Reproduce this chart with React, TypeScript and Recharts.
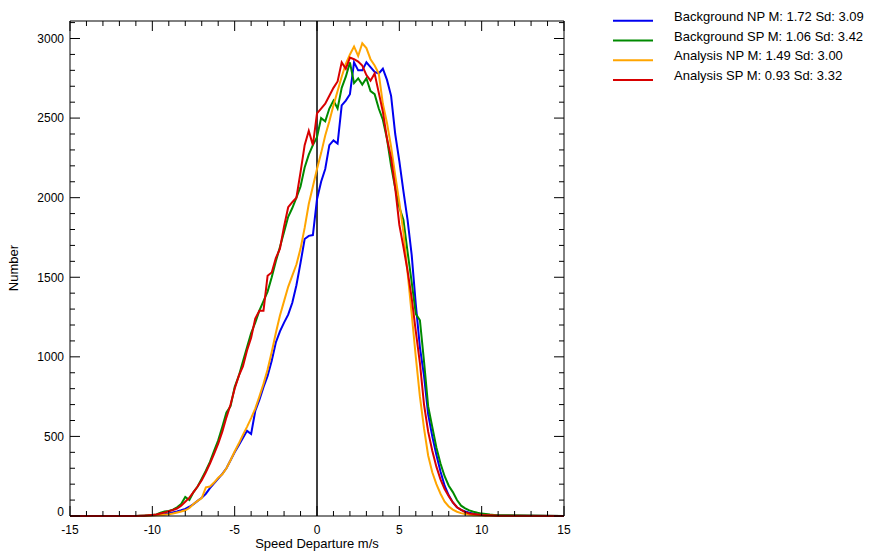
import React from 'react';
import { LineChart, Line, XAxis, YAxis, ReferenceLine } from 'recharts';

// bin centres of the speed departure histogram (m/s)
const SPEED_BINS = [
  -15,
  -11, -10.75, -10.5, -10.25,
  -10, -9.75, -9.5, -9.25,
  -9, -8.75, -8.5, -8.25,
  -8, -7.75, -7.5, -7.25,
  -7, -6.75, -6.5, -6.25,
  -6, -5.75, -5.5, -5.25,
  -5, -4.75, -4.5, -4.25,
  -4, -3.75, -3.5, -3.25,
  -3, -2.75, -2.5, -2.25,
  -2, -1.75, -1.5, -1.25,
  -1, -0.75, -0.5, -0.25,
  0, 0.25, 0.5, 0.75,
  1, 1.25, 1.5, 1.75,
  2, 2.25, 2.5, 2.75,
  3, 3.25, 3.5, 3.75,
  4, 4.25, 4.5, 4.75,
  5, 5.25, 5.5, 5.75,
  6, 6.25, 6.5, 6.75,
  7, 7.25, 7.5, 7.75,
  8, 8.25, 8.5, 8.75,
  9, 9.25, 9.5, 9.75,
  10, 10.25, 10.5, 10.75,
  11,
  15,
];

const BACKGROUND_NP = [
  0,
  0, 0, 2, 3,
  4, 6, 8, 11,
  16, 22, 28, 36,
  45, 58, 75, 95,
  115, 140, 175, 205,
  235, 265, 300, 350,
  400, 445, 490, 535,
  515, 660, 730, 810,
  880, 975, 1090, 1160,
  1215, 1265, 1340, 1450,
  1590, 1740, 1760, 1765,
  1990, 2100, 2180, 2330,
  2360, 2340, 2580, 2610,
  2650, 2850, 2800, 2800,
  2850, 2820, 2790, 2780,
  2810, 2740, 2640, 2400,
  2230, 2040, 1860, 1640,
  1330, 1060, 880, 640,
  500, 385, 280, 190,
  130, 85, 55, 38,
  28, 20, 14, 10,
  7, 5, 4, 3,
  2,
  0,
];

const BACKGROUND_SP = [
  0,
  0, 1, 2, 4,
  6, 10, 20, 28,
  32, 40, 55, 75,
  120, 100, 150, 185,
  235, 285, 340, 410,
  475, 560, 650, 690,
  810, 880, 970, 1060,
  1150, 1215, 1290, 1350,
  1410, 1500, 1600, 1690,
  1785, 1880, 1935, 2000,
  2070, 2190, 2270, 2330,
  2380, 2500, 2480, 2560,
  2610, 2560, 2690, 2760,
  2850, 2720, 2750, 2710,
  2750, 2670, 2650, 2560,
  2490, 2370, 2200, 2060,
  1940, 1860, 1660, 1470,
  1270, 1230, 970, 690,
  560, 430, 330, 250,
  190, 150, 100, 65,
  48, 35, 27, 20,
  15, 12, 9, 7,
  5,
  0,
];

const ANALYSIS_NP = [
  0,
  0, 0, 1, 2,
  3, 4, 6, 8,
  11, 16, 22, 28,
  36, 50, 75, 95,
  112, 180, 185, 210,
  240, 262, 300, 350,
  405, 455, 510, 560,
  615, 675, 750, 830,
  920, 1030, 1150, 1260,
  1350, 1440, 1510, 1580,
  1680, 1810, 1960, 2070,
  2180, 2280, 2390, 2480,
  2580, 2670, 2760, 2840,
  2900, 2950, 2890, 2970,
  2940, 2870, 2830, 2780,
  2590, 2470, 2320, 2140,
  1970, 1780, 1530, 1270,
  1000, 750, 550, 380,
  275, 200, 140, 90,
  60, 40, 27, 18,
  12, 8, 5, 4,
  3, 2, 1, 1,
  0,
  0,
];

const ANALYSIS_SP = [
  0,
  0, 1, 2, 4,
  7, 10, 16, 22,
  30, 38, 47, 65,
  90, 115, 150, 185,
  225, 275, 330, 390,
  455, 530, 620, 700,
  800, 880, 940, 1040,
  1120, 1240, 1290, 1290,
  1510, 1530, 1620, 1680,
  1820, 1940, 1972, 2000,
  2160, 2330, 2420, 2330,
  2530, 2560, 2590, 2640,
  2690, 2730, 2850, 2810,
  2880, 2870, 2855, 2830,
  2770, 2735, 2780, 2660,
  2540, 2370, 2250, 2060,
  1830, 1690, 1540, 1370,
  1160, 960, 700, 530,
  410, 310, 230, 170,
  125, 85, 55, 38,
  24, 16, 12, 9,
  6, 5, 4, 3,
  2,
  0,
];

const SERIES = [
  { key: 'bnp', name: 'Background NP M: 1.72 Sd: 3.09', color: '#0000f0', values: BACKGROUND_NP },
  { key: 'bsp', name: 'Background SP M: 1.06 Sd: 3.42', color: '#008a00', values: BACKGROUND_SP },
  { key: 'anp', name: 'Analysis NP M: 1.49 Sd: 3.00', color: '#ffa500', values: ANALYSIS_NP },
  { key: 'asp', name: 'Analysis SP M: 0.93 Sd: 3.32', color: '#d80000', values: ANALYSIS_SP },
];

const X_TICKS = [-15, -14, -13, -12, -11, -10, -9, -8, -7, -6, -5, -4, -3, -2, -1, 0, 1, 2, 3, 4, 5, 6, 7, 8, 9, 10, 11, 12, 13, 14, 15];
const Y_TICKS = [
  0, 100, 200, 300, 400, 500, 600, 700, 800, 900, 1000, 1100, 1200, 1300, 1400, 1500,
  1600, 1700, 1800, 1900, 2000, 2100, 2200, 2300, 2400, 2500, 2600, 2700, 2800, 2900, 3000, 3100,
];

const FONT = '"Liberation Sans", Arial, Helvetica, sans-serif';
const INK = '#000';

const chartData = SPEED_BINS.map((x, i) => {
  const row: Record<string, number> = { x };
  SERIES.forEach((s) => {
    row[s.key] = s.values[i];
  });
  return row;
});

// ticks point into the plot, long ones every 5 m/s / 500 counts
function BottomTick(props: any) {
  const { x, y, payload } = props;
  const major = payload.value % 5 === 0;
  return (
    <g>
      <line x1={x} x2={x} y1={y} y2={y - (major ? 10 : 5)} stroke={INK} />
      {major && (
        <text x={x} y={y + 18} textAnchor="middle" fontSize={12} fontFamily={FONT} fill={INK}>
          {payload.value}
        </text>
      )}
    </g>
  );
}

function TopTick(props: any) {
  const { x, y, payload } = props;
  const major = payload.value % 5 === 0;
  return <line x1={x} x2={x} y1={y} y2={y + (major ? 10 : 5)} stroke={INK} />;
}

function LeftTick(props: any) {
  const { x, y, payload } = props;
  const major = payload.value % 500 === 0;
  return (
    <g>
      <line x1={x} x2={x + (major ? 10 : 5)} y1={y} y2={y} stroke={INK} />
      {major && (
        <text
          x={x - 6}
          y={payload.value === 0 ? y : y + 4.3}
          textAnchor="end"
          fontSize={12}
          fontFamily={FONT}
          fill={INK}
        >
          {payload.value}
        </text>
      )}
    </g>
  );
}

function RightTick(props: any) {
  const { x, y, payload } = props;
  const major = payload.value % 500 === 0;
  return <line x1={x} x2={x - (major ? 10 : 5)} y1={y} y2={y} stroke={INK} />;
}

export default function App() {
  return (
    <div style={{ position: 'absolute', left: 0, top: 0, width: 877, height: 551, background: '#fff' }}>
      <LineChart width={877} height={551} data={chartData} margin={{ top: 20, right: 312, left: 0, bottom: 0 }}>
        <XAxis
          xAxisId="main"
          dataKey="x"
          type="number"
          domain={[-15, 15]}
          ticks={X_TICKS}
          interval={0}
          height={35}
          tickSize={0}
          tickMargin={0}
          tickLine={false}
          tick={BottomTick}
          axisLine={{ stroke: INK }}
          label={{ value: 'Speed Departure m/s', position: 'insideBottom', offset: 3, fontSize: 13, fontFamily: FONT, fill: INK }}
        />
        <XAxis
          xAxisId="top"
          orientation="top"
          dataKey="x"
          type="number"
          domain={[-15, 15]}
          ticks={X_TICKS}
          interval={0}
          height={1}
          tickSize={0}
          tickMargin={0}
          tickLine={false}
          tick={TopTick}
          axisLine={{ stroke: INK }}
        />
        <YAxis
          yAxisId="main"
          type="number"
          domain={[0, 3110]}
          ticks={Y_TICKS}
          interval={0}
          width={70}
          tickSize={0}
          tickMargin={0}
          tickLine={false}
          tick={LeftTick}
          axisLine={{ stroke: INK }}
          label={{
            content: () => (
              <text x={18} y={268} transform="rotate(-90, 18, 268)" textAnchor="middle" fontSize={13} fontFamily={FONT} fill={INK}>
                Number
              </text>
            ),
          }}
        />
        <YAxis
          yAxisId="right"
          orientation="right"
          dataKey="bnp"
          type="number"
          domain={[0, 3110]}
          ticks={Y_TICKS}
          interval={0}
          width={1}
          tickSize={0}
          tickMargin={0}
          tickLine={false}
          tick={RightTick}
          axisLine={{ stroke: INK }}
        />
        <ReferenceLine xAxisId="main" yAxisId="main" x={0} stroke={INK} strokeWidth={1.5} />
        {SERIES.map((s) => (
          <Line
            key={s.key}
            xAxisId="main"
            yAxisId="main"
            type="linear"
            dataKey={s.key}
            name={s.name}
            stroke={s.color}
            strokeWidth={2}
            dot={false}
            isAnimationActive={false}
          />
        ))}
      </LineChart>
      <svg width={877} height={100} style={{ position: 'absolute', left: 0, top: 0, pointerEvents: 'none' }}>
        {SERIES.map((s, i) => (
          <g key={s.key}>
            <line x1={613} x2={653} y1={20.7 + i * 19.8} y2={20.7 + i * 19.8} stroke={s.color} strokeWidth={2} />
            <text x={674} y={20.7 + i * 19.8} fontSize={13} fontFamily={FONT} fill={INK}>
              {s.name}
            </text>
          </g>
        ))}
      </svg>
    </div>
  );
}
